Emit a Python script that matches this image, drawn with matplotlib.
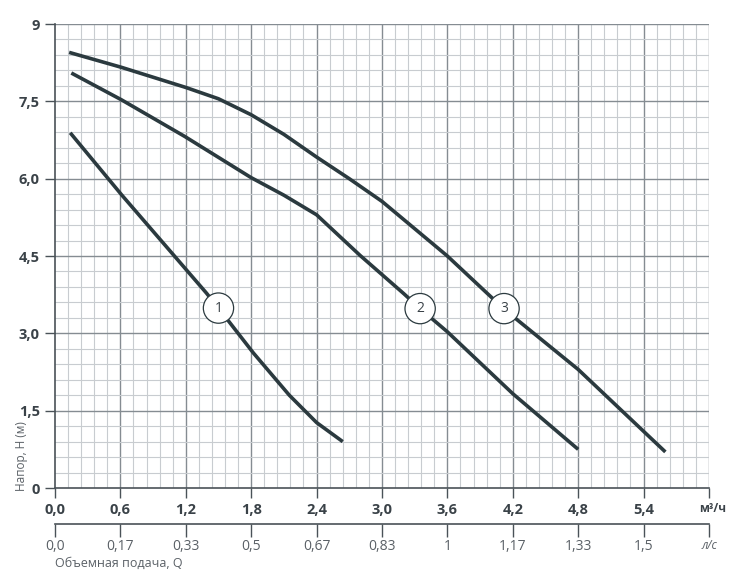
import numpy as np
import matplotlib.pyplot as plt

plt.rcParams['font.family'] = ['Open Sans', 'DejaVu Sans']

# flow, m3/h and head, m
q1 = [0.14, 0.61, 1.10, 1.39, 1.50, 1.82, 2.15, 2.40, 2.64]
h1 = [6.89, 5.69, 4.49, 3.78, 3.49, 2.62, 1.80, 1.27, 0.90]

q2 = [0.15, 0.61, 1.19, 1.80, 2.10, 2.40, 2.80, 3.20, 3.35, 3.60, 4.20, 4.80]
h2 = [8.05, 7.53, 6.82, 6.02, 5.68, 5.30, 4.51, 3.77, 3.48, 3.03, 1.83, 0.75]

q3 = [0.13, 0.61, 1.20, 1.50, 1.80, 2.10, 2.40, 2.70, 3.00, 3.60, 4.12, 4.80, 5.60]
h3 = [8.45, 8.16, 7.77, 7.55, 7.24, 6.86, 6.42, 6.00, 5.56, 4.50, 3.47, 2.30, 0.70]

curve_labels = ['1', '2', '3']
label_pos = [(1.50, 3.49), (3.35, 3.48), (4.12, 3.48)]

x_ticks = [0.0, 0.6, 1.2, 1.8, 2.4, 3.0, 3.6, 4.2, 4.8, 5.4]
x_labels = ['0,0', '0,6', '1,2', '1,8', '2,4', '3,0', '3,6', '4,2', '4,8', '5,4']
y_ticks = [0, 1.5, 3.0, 4.5, 6.0, 7.5, 9]
y_labels = ['0', '1,5', '3,0', '4,5', '6,0', '7,5', '9']
ls_labels = ['0,0', '0,17', '0,33', '0,5', '0,67', '0,83', '1', '1,17', '1,33', '1,5']

dark = '#2b3a3f'
text_c = '#3a4248'
grey_txt = '#5a6066'

fig = plt.figure(figsize=(7.5, 5.86), dpi=100)
ax = fig.add_axes([0.0733, 0.1672, 0.872, 0.7918])
ax.set_xlim(0, 6.0)
ax.set_ylim(0, 9)

# grid: minor every 0.12 / 0.3, major every 0.6 / 1.5
for x in np.arange(0.12, 6.01, 0.12):
    major = abs(x / 0.6 - round(x / 0.6)) < 1e-6
    ax.axvline(x, color='#858c92' if major else '#c8ccd0', lw=1.0 if major else 0.8, zorder=1)
for y in np.arange(0.3, 9.01, 0.3):
    major = abs(y / 1.5 - round(y / 1.5)) < 1e-6
    ax.axhline(y, color='#858c92' if major else '#c8ccd0', lw=1.0 if major else 0.8, zorder=1)

for q, h in [(q1, h1), (q2, h2), (q3, h3)]:
    ax.plot(q, h, color=dark, lw=2.6, solid_capstyle='butt', solid_joinstyle='round', zorder=3)

for lab, (x, y) in zip(curve_labels, label_pos):
    ax.text(x, y, lab, ha='center', va='center', fontsize=10, color=text_c, zorder=5,
            bbox=dict(boxstyle='circle,pad=0.55', fc='white', ec=dark, lw=0.9))

for s in ['top', 'right']:
    ax.spines[s].set_visible(False)
for s in ['left', 'bottom']:
    ax.spines[s].set_color('#4a5258')
    ax.spines[s].set_linewidth(1.2)

ax.set_xticks(x_ticks + [6.0])
ax.set_xticklabels(x_labels + [''])
ax.set_yticks(y_ticks)
ax.set_yticklabels(y_labels)
ax.tick_params(axis='both', direction='out', length=7, width=1, color='#4a5258',
               labelsize=10.5, labelcolor=text_c, pad=4)
for t in ax.get_xticklabels() + ax.get_yticklabels():
    t.set_fontweight('bold')

ax.text(6.03, -0.40, 'м³/ч', ha='center', va='center', fontsize=8.5, fontweight='bold',
        color=text_c)

# second scale in l/s
ax2 = fig.add_axes([0.0733, 0.1058, 0.872, 0.0001])
ax2.set_xlim(0, 6.0)
ax2.set_yticks([])
for s in ['top', 'right', 'left']:
    ax2.spines[s].set_visible(False)
ax2.spines['bottom'].set_color('#4a5258')
ax2.spines['bottom'].set_linewidth(1.2)
ax2.set_xticks(x_ticks + [6.0])
ax2.set_xticklabels(ls_labels + ['л/с'])
ax2.tick_params(axis='x', direction='out', length=9, width=1, color='#4a5258',
                labelsize=10, labelcolor=grey_txt, pad=2)
ax2.get_xticklabels()[-1].set_fontsize(8.5)
ax2.get_xticklabels()[-1].set_fontstyle('italic')

fig.text(0.073, 0.038, 'Объемная подача, Q', ha='left', va='center', fontsize=9,
         color=grey_txt)
fig.text(0.029, 0.222, 'Напор, H (м)', ha='center', va='center', rotation=90,
         fontsize=8.5, color=grey_txt)

fig.savefig('out.png', dpi=100, facecolor='white')
